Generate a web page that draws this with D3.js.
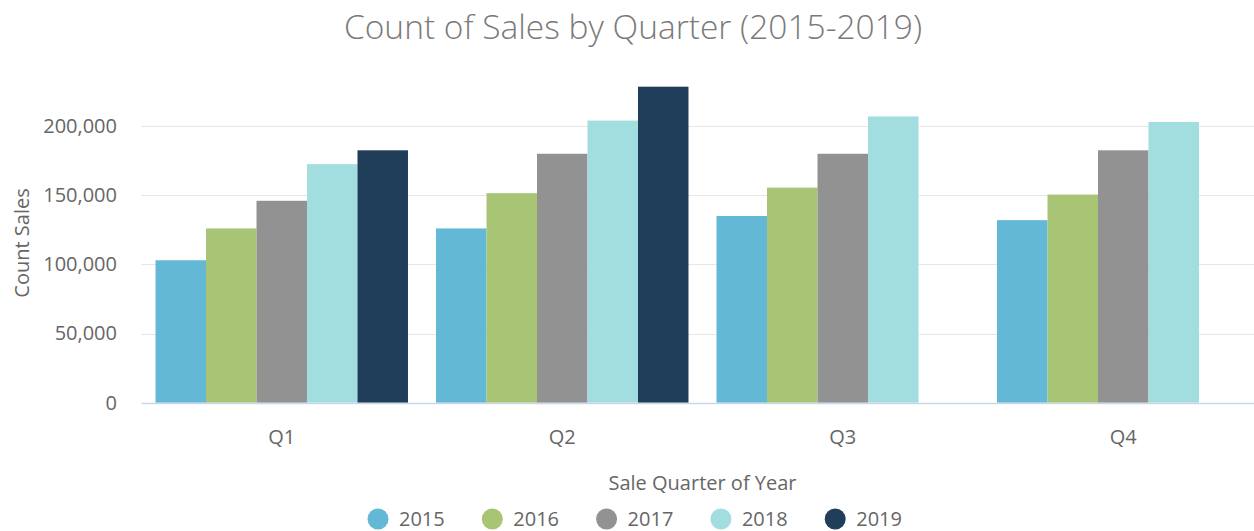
<!DOCTYPE html>
<html>
<head>
<meta charset="utf-8">
<script src="https://cdn.jsdelivr.net/npm/d3@7"></script>
<style>
  html, body { margin: 0; padding: 0; background: #fff; overflow: hidden; }
  svg { display: block; font-family: "Open Sans", sans-serif; }
</style>
</head>
<body>
<svg id="chart" width="1254" height="531"></svg>
<script>
// Data
const quarters = ["Q1", "Q2", "Q3", "Q4"];
const years = ["2015", "2016", "2017", "2018", "2019"];
const sales2015 = [103000, 126000, 135000, 132000];
const sales2016 = [126000, 151500, 155500, 150500];
const sales2017 = [146000, 180000, 180000, 182500];
const sales2018 = [172500, 204000, 207000, 203000];
const sales2019 = [182500, 228500, null, null];
const yTicks = [0, 50000, 100000, 150000, 200000];
const colors = ["#63b8d5", "#a8c475", "#929292", "#a2dee0", "#203d5a"];

const seriesValues = [sales2015, sales2016, sales2017, sales2018, sales2019];

// Chart is slightly wider than the window, right edge gets cropped
const fullWidth = 1266;
const plotLeft = 141.5, plotRight = 1263.5;
const plotBottom = 402.7, plotTop = 86;

const svg = d3.select("#chart");

const x = d3.scaleBand().domain(quarters).range([plotLeft, plotRight]);
const x1 = d3.scaleBand().domain(years)
    .range([x.bandwidth() * 0.05, x.bandwidth() * 0.95]);
const y = d3.scaleLinear().domain([0, 229000]).range([plotBottom, plotTop]);

// Gridlines
svg.append("g")
    .selectAll("line")
    .data(yTicks.filter(d => d > 0))
    .join("line")
    .attr("x1", plotLeft)
    .attr("x2", plotRight)
    .attr("y1", d => Math.round(y(d)) + 0.5)
    .attr("y2", d => Math.round(y(d)) + 0.5)
    .attr("stroke", "#e6e6e6")
    .attr("stroke-width", 1);

// Bars
const groups = svg.append("g")
    .selectAll("g")
    .data(quarters)
    .join("g")
    .attr("transform", d => "translate(" + x(d) + ",0)");

groups.selectAll("rect")
    .data((q, qi) => years.map((yr, i) => ({ year: yr, i: i, value: seriesValues[i][qi] }))
        .filter(d => d.value != null))
    .join("rect")
    .attr("x", d => x1(d.year))
    .attr("width", x1.bandwidth())
    .attr("y", d => y(d.value))
    .attr("height", d => y(0) - y(d.value))
    .attr("fill", d => colors[d.i]);

// Bottom axis line
svg.append("line")
    .attr("x1", plotLeft)
    .attr("x2", plotRight)
    .attr("y1", Math.round(plotBottom) + 0.5)
    .attr("y2", Math.round(plotBottom) + 0.5)
    .attr("stroke", "#ccd6eb")
    .attr("stroke-width", 1.5);

// Y axis labels
const yAxis = d3.axisLeft(y)
    .tickValues(yTicks)
    .tickFormat(d3.format(","))
    .tickSize(0)
    .tickPadding(0);

svg.append("g")
    .attr("transform", "translate(117,0)")
    .call(yAxis)
    .call(g => g.select(".domain").remove())
    .call(g => g.selectAll("text")
        .attr("fill", "#666")
        .attr("font-size", "20px")
        .attr("font-family", "Open Sans, sans-serif"));

// X axis labels
const xAxis = d3.axisBottom(x).tickSize(0).tickPadding(0);

svg.append("g")
    .attr("transform", "translate(0,430)")
    .call(xAxis)
    .call(g => g.select(".domain").remove())
    .call(g => g.selectAll("text")
        .attr("fill", "#666")
        .attr("font-size", "20px")
        .attr("font-family", "Open Sans, sans-serif"));

// Title
svg.append("text")
    .attr("x", fullWidth / 2)
    .attr("y", 39)
    .attr("text-anchor", "middle")
    .attr("fill", "#7a7a7a")
    .attr("font-size", "33.5px")
    .attr("font-weight", 300)
    .text("Count of Sales by Quarter (2015-2019)");

// Axis titles
svg.append("text")
    .attr("x", (plotLeft + plotRight) / 2)
    .attr("y", 490)
    .attr("text-anchor", "middle")
    .attr("fill", "#666")
    .attr("font-size", "20px")
    .text("Sale Quarter of Year");

svg.append("text")
    .attr("transform", "translate(29," + 243 + ") rotate(-90)")
    .attr("text-anchor", "middle")
    .attr("fill", "#666")
    .attr("font-size", "20px")
    .text("Count Sales");

// Legend
const legendStep = 114.3;
const legendStart = 378;
const legend = svg.append("g")
    .selectAll("g")
    .data(years)
    .join("g")
    .attr("transform", (d, i) => "translate(" + (legendStart + i * legendStep) + ",519)");

legend.append("circle")
    .attr("r", 10.5)
    .attr("fill", (d, i) => colors[i]);

legend.append("text")
    .attr("x", 21)
    .attr("y", 7)
    .attr("fill", "#666")
    .attr("font-size", "20px")
    .text(d => d);
</script>
</body>
</html>
